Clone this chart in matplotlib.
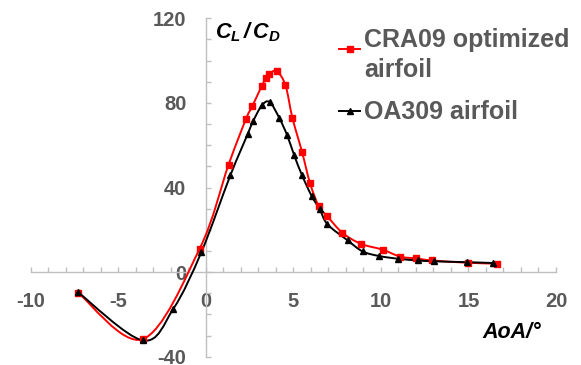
import numpy as np
import matplotlib
matplotlib.use("Agg")
import matplotlib.pyplot as plt
from matplotlib.path import Path
from matplotlib.patches import PathPatch
from matplotlib.ticker import MultipleLocator
from matplotlib.lines import Line2D
from matplotlib.legend_handler import HandlerLine2D

# ---- data ----
cra_aoa = [-7.3, -3.6, -0.35, 1.3, 2.3, 2.65, 3.2, 3.45, 3.6, 4.05, 4.55, 4.95,
           5.5, 5.95, 6.45, 6.95, 7.8, 8.85, 10.1, 11.1, 12.0, 12.9, 15.0, 16.65]
cra_cld = [-9.7, -31.7, 11.1, 50.8, 72.5, 78.3, 88.1, 92.0, 93.6, 95.0, 88.3, 72.8,
           56.7, 42.1, 31.2, 26.3, 18.6, 13.4, 10.6, 7.3, 6.5, 5.5, 4.4, 4.0]
oa_aoa = [-7.3, -3.6, -1.85, -0.25, 1.4, 2.4, 2.7, 3.2, 3.65, 4.2, 4.65, 5.05,
          5.5, 6.05, 6.5, 6.95, 8.1, 8.95, 9.9, 11.0, 12.1, 13.05, 14.9, 16.4]
oa_cld = [-9.5, -32.3, -17.3, 9.5, 45.7, 65.4, 71.3, 78.8, 80.4, 72.8, 64.6, 55.2,
          45.7, 35.9, 29.8, 22.6, 15.0, 9.8, 7.6, 6.3, 5.5, 5.1, 4.7, 4.3]
labels = ["CRA09 optimized\nairfoil", "OA309 airfoil"]
x_ticks = [-10, -5, 0, 5, 10, 15, 20]
y_ticks = [-40, 0, 40, 80, 120]

plt.rcParams['font.family'] = ['Liberation Sans', 'DejaVu Sans']
plt.rcParams['axes.unicode_minus'] = False
plt.rcParams['mathtext.fontset'] = 'custom'
plt.rcParams['mathtext.it'] = 'Liberation Sans:italic:bold'
plt.rcParams['mathtext.rm'] = 'Liberation Sans:italic:bold'

W, H = 581, 365
fig = plt.figure(figsize=(W / 100, H / 100), dpi=100)
x0, x1 = 30.7, 556.0
ytop, ybot = 18.3, 356.7
ax = fig.add_axes([x0 / W, (H - ybot) / H, (x1 - x0) / W, (ybot - ytop) / H])
ax.set_xlim(-10, 20)
ax.set_ylim(-40, 120)


def smooth_path(xs, ys):
    """Excel-like smoothed line: cubic Bezier with Catmull-Rom control points."""
    p = np.column_stack([xs, ys]).astype(float)
    n = len(p)
    verts = [p[0]]
    codes = [Path.MOVETO]
    for i in range(n - 1):
        pm = p[i - 1] if i > 0 else p[i]
        pn2 = p[i + 2] if i + 2 < n else p[i + 1]
        c1 = p[i] + (p[i + 1] - pm) / 6.0
        c2 = p[i + 1] - (pn2 - p[i]) / 6.0
        verts += [c1, c2, p[i + 1]]
        codes += [Path.CURVE4] * 3
    return Path(verts, codes)


red = '#FF0000'
blk = '#000000'
for xs, ys, col in [(cra_aoa, cra_cld, red), (oa_aoa, oa_cld, blk)]:
    ax.add_patch(PathPatch(smooth_path(xs, ys), facecolor='none', edgecolor=col,
                           lw=1.4, zorder=3))
ax.plot(cra_aoa, cra_cld, ls='none', marker='s', ms=5, color=red, zorder=4)
ax.plot(oa_aoa, oa_cld, ls='none', marker='^', ms=5, color=blk, zorder=5)

# axes styling
gray = '#BFBFBF'
for s in ['top', 'right']:
    ax.spines[s].set_visible(False)
ax.spines['left'].set_position(('data', 0))
ax.spines['bottom'].set_position(('data', 0))
for s in ['left', 'bottom']:
    ax.spines[s].set_color(gray)
    ax.spines[s].set_linewidth(1.0)
ax.set_xticks(x_ticks)
ax.set_yticks(y_ticks)
ax.xaxis.set_minor_locator(MultipleLocator(1))
ax.yaxis.set_minor_locator(MultipleLocator(10))
ax.tick_params(which='both', direction='in', length=3.5, width=1.0, color=gray)
ax.tick_params(axis='x', which='major', pad=14)
ax.tick_params(axis='y', which='major', pad=14)
for lab in ax.get_xticklabels() + ax.get_yticklabels():
    lab.set_fontsize(14.5)
    lab.set_fontweight('bold')
    lab.set_color('#595959')
ax.patch.set_alpha(0)


class ShiftedHandler(HandlerLine2D):
    def __init__(self, dy=0.0, **kw):
        super().__init__(**kw)
        self.dy = dy

    def create_artists(self, legend, orig_handle, xdescent, ydescent, width,
                       height, fontsize, trans):
        arts = super().create_artists(legend, orig_handle, xdescent, ydescent,
                                      width, height, fontsize, trans)
        for a in arts:
            a.set_ydata(np.asarray(a.get_ydata()) + self.dy)
        return arts


# legend
handles = [Line2D([], [], color=red, marker='s', ms=5, lw=1.4),
           Line2D([], [], color=blk, marker='^', ms=5, lw=1.4)]
leg = fig.legend(handles, labels, loc='upper left',
                 bbox_to_anchor=(339 / W, 1 - 28 / H), frameon=False,
                 numpoints=1, handlelength=0.85, handletextpad=0.15,
                 labelspacing=0.75, borderpad=0, borderaxespad=0,
                 prop={'size': 18, 'weight': 'bold'},
                 handler_map={handles[0]: ShiftedHandler(dy=5.0)})
for t in leg.get_texts():
    t.set_color('#595959')
    t.set_linespacing(1.3)

# axis titles
fig.text(215 / W, 1 - 38 / H, r'$C_L\,/\,C_D$', fontsize=15.5, color='black',
         ha='left', va='baseline')
fig.text(482 / W, 1 - 338 / H, 'AoA/°', fontsize=15.5, color='black',
         fontweight='bold', fontstyle='italic', ha='left', va='baseline')

fig.savefig('out.png', dpi=100)
